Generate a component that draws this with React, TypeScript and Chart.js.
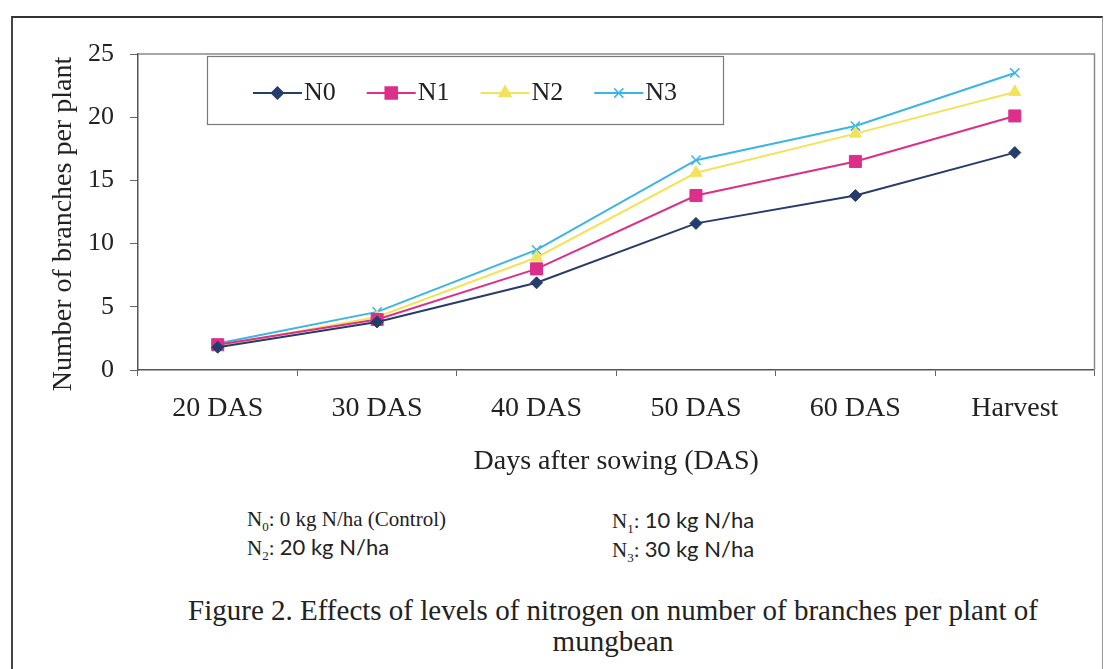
import React, { useEffect, useRef } from "react";
import { Chart, registerables } from "chart.js";
import { drawPoint } from "chart.js/helpers";

Chart.register(...registerables);

const categories = ["20 DAS", "30 DAS", "40 DAS", "50 DAS", "60 DAS", "Harvest"];
const seriesNames = ["N0", "N1", "N2", "N3"];
const n0Values = [1.8, 3.8, 6.9, 11.6, 13.8, 17.2];
const n1Values = [2.0, 4.0, 8.0, 13.8, 16.5, 20.1];
const n2Values = [1.9, 4.2, 8.9, 15.6, 18.7, 22.0];
const n3Values = [2.1, 4.6, 9.5, 16.6, 19.3, 23.5];
const yTicks = [0, 5, 10, 15, 20, 25];

const SERIF = "'Liberation Serif', 'Times New Roman', serif";

const legendPlugin = {
  id: "boxLegend",
  afterDatasetsDraw(chart: any) {
    const ctx = chart.ctx;
    const box = { x: 207, y: 56, w: 516, h: 68 };
    ctx.save();
    ctx.fillStyle = "#ffffff";
    ctx.fillRect(box.x, box.y, box.w, box.h);
    ctx.strokeStyle = "#7a7a7a";
    ctx.lineWidth = 1.2;
    ctx.strokeRect(box.x + 0.5, box.y + 0.5, box.w, box.h);
    ctx.font = "26px " + SERIF;
    ctx.textBaseline = "middle";
    const lineLen = 49;
    const gap = 31;
    const textGap = 2;
    const items = chart.data.datasets.map((ds: any) => ({
      ds,
      tw: ctx.measureText(ds.label).width,
    }));
    const total =
      items.reduce((s: number, it: any) => s + lineLen + textGap + it.tw, 0) +
      gap * (items.length - 1);
    let x = box.x + (box.w - total) / 2;
    const cy = box.y + box.h / 2 + 3;
    items.forEach((it: any) => {
      const ds = it.ds;
      ctx.strokeStyle = ds.borderColor;
      ctx.lineWidth = 2;
      ctx.beginPath();
      ctx.moveTo(x, cy);
      ctx.lineTo(x + lineLen, cy);
      ctx.stroke();
      ctx.fillStyle = ds.pointBackgroundColor;
      ctx.strokeStyle = ds.pointBorderColor;
      ctx.lineWidth = 1.5;
      drawPoint(ctx, { pointStyle: ds.pointStyle, radius: ds.pointRadius, rotation: 0, borderWidth: 1.5 }, x + lineLen / 2, cy);
      ctx.fillStyle = "#222";
      ctx.fillText(ds.label, x + lineLen + textGap, cy);
      x += lineLen + textGap + it.tw + gap;
    });
    ctx.restore();
  },
};

const framePlugin = {
  id: "plotFrame",
  beforeDatasetsDraw(chart: any) {
    const { ctx, chartArea } = chart;
    ctx.save();
    ctx.strokeStyle = "#8a8a8a";
    ctx.lineWidth = 1.5;
    ctx.beginPath();
    ctx.moveTo(chartArea.left, chartArea.top);
    ctx.lineTo(chartArea.right, chartArea.top);
    ctx.lineTo(chartArea.right, chartArea.bottom);
    ctx.stroke();
    ctx.restore();
  },
  afterDraw(chart: any) {
    const { ctx } = chart;
    ctx.save();
    ctx.translate(64, 224);
    ctx.rotate(-Math.PI / 2);
    ctx.font = "28px " + SERIF;
    ctx.fillStyle = "#222";
    ctx.textAlign = "center";
    ctx.textBaseline = "middle";
    ctx.fillText("Number of branches per plant", 0, 0);
    ctx.restore();
  },
};

export default function App() {
  const canvasRef = useRef<HTMLCanvasElement | null>(null);

  useEffect(() => {
    if (!canvasRef.current) return;
    const mk = (label: string, data: number[], color: string, style: string, r: number) => ({
      label,
      data,
      borderColor: color,
      backgroundColor: color,
      pointBackgroundColor: color,
      pointBorderColor: color,
      pointStyle: style,
      pointRadius: r,
      pointBorderWidth: style === "crossRot" ? 1.5 : 1,
      borderWidth: 2,
      tension: 0,
      fill: false,
    });
    const chart = new Chart(canvasRef.current, {
      type: "line",
      data: {
        labels: categories,
        datasets: [
          mk(seriesNames[0], n0Values, "#263d6b", "rectRot", 6),
          mk(seriesNames[1], n1Values, "#dc2f8a", "rect", 8.5),
          mk(seriesNames[2], n2Values, "#f3e35a", "triangle", 7),
          mk(seriesNames[3], n3Values, "#3bb5e3", "crossRot", 6.5),
        ],
      },
      options: {
        animation: false,
        responsive: false,
        layout: { padding: { left: 0, top: 54, right: 2, bottom: 0 } },
        plugins: {
          legend: { display: false },
          tooltip: { enabled: false },
        },
        scales: {
          x: {
            type: "category",
            offset: true,
            afterFit(scale: any) {
              scale.height = 120;
            },
            grid: {
              display: true,
              drawOnChartArea: false,
              drawTicks: true,
              tickLength: 6,
              offset: true,
              color: "#666",
            },
            border: { display: true, color: "#555", width: 1.5 },
            ticks: {
              font: { family: SERIF, size: 28 },
              color: "#222",
              padding: 16,
              maxRotation: 0,
            },
            title: {
              display: true,
              text: "Days after sowing (DAS)",
              font: { family: SERIF, size: 28 },
              color: "#222",
              padding: { top: 0, bottom: 12 },
            },
          },
          y: {
            type: "linear",
            min: 0,
            max: 25,
            afterFit(scale: any) {
              scale.width = 138;
            },
            afterBuildTicks(scale: any) {
              scale.ticks = yTicks.map((v) => ({ value: v }));
            },
            grid: {
              display: true,
              drawOnChartArea: false,
              drawTicks: true,
              tickLength: 8,
              color: "#666",
            },
            border: { display: true, color: "#555", width: 1.5 },
            ticks: {
              font: { family: SERIF, size: 26 },
              color: "#222",
              padding: 16,
            },
          },
        },
      },
      plugins: [framePlugin, legendPlugin],
    } as any);
    return () => chart.destroy();
  }, []);

  const noteStyle: React.CSSProperties = {
    position: "absolute",
    fontFamily: SERIF,
    fontSize: 21,
    color: "#222",
    whiteSpace: "nowrap",
    lineHeight: "27px",
  };
  const sans: React.CSSProperties = { fontFamily: "Lato, 'Liberation Sans', sans-serif", fontSize: 22 };
  const sub: React.CSSProperties = { fontSize: 13, position: "relative", top: 5, verticalAlign: "baseline", lineHeight: 0 };

  return (
    <div style={{ position: "absolute", left: 0, top: 0, width: 1104, height: 669, background: "#fff", overflow: "hidden" }}>
      <div
        style={{
          position: "absolute",
          left: 11,
          top: 16,
          width: 1089,
          height: 700,
          borderTop: "2px solid #333",
          borderLeft: "2px solid #444",
          borderRight: "1px solid #999",
        }}
      />
      <canvas
        ref={canvasRef}
        width={1104}
        height={490}
        style={{ position: "absolute", left: 0, top: 0, display: "block" }}
      />
      <div style={{ ...noteStyle, left: 247, top: 506 }}>
        <div>
          N<span style={sub}>0</span>: 0 kg N/ha (Control)
        </div>
        <div>
          N<span style={sub}>2</span>: <span style={sans}>20 kg N/ha</span>
        </div>
      </div>
      <div style={{ ...noteStyle, left: 612, top: 506 }}>
        <div>
          N<span style={sub}>1</span>: <span style={sans}>10 kg N/ha</span>
        </div>
        <div>
          N<span style={sub}>3</span>: <span style={sans}>30 kg N/ha</span>
        </div>
      </div>
      <div
        style={{
          position: "absolute",
          left: 100,
          width: 1026,
          top: 595,
          textAlign: "center",
          fontFamily: SERIF,
          fontSize: 29,
          lineHeight: "31px",
          color: "#222",
          whiteSpace: "nowrap",
        }}
      >
        Figure 2. Effects of levels of nitrogen on number of branches per plant of
        <br />
        mungbean
      </div>
    </div>
  );
}
